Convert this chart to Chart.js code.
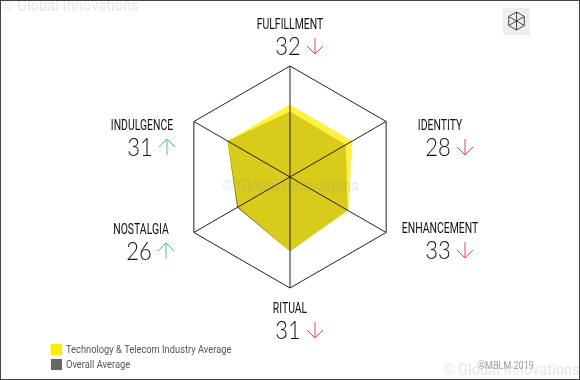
<!DOCTYPE html>
<html>
<head>
<meta charset="utf-8">
<script src="https://cdn.jsdelivr.net/npm/chart.js@4"></script>
<style>
    body { margin: 0; background: #fff; }
    #wrap { position: relative; width: 580px; height: 380px; }
    #frame { position: absolute; inset: 0; box-sizing: border-box; border: 1px solid #444; pointer-events: none; }
</style>
</head>
<body>
<div id="wrap">
    <canvas id="radar" width="580" height="380"></canvas>
    <div id="frame"></div>
</div>
<script>
const categories = ['FULFILLMENT', 'IDENTITY', 'ENHANCEMENT', 'RITUAL', 'NOSTALGIA', 'INDULGENCE'];
const scores = [32, 28, 33, 31, 26, 31];
const trends = ['down', 'down', 'down', 'down', 'up', 'up'];
const industryValues = [32.7, 32.5, 30.5, 33.5, 27, 32.5];
const overallValues = [29.5, 29, 30, 33.5, 27.5, 32.5];
const seriesNames = ['Technology & Telecom Industry Average', 'Overall Average'];
const axisMax = 50;

// centre of each label block, by hand from the picture
const labelSpots = [[290, 25], [440, 126], [440, 229], [290, 309], [141, 230], [142, 126]];

const yellow = '#ffee00';
const grey = '#666666';

// no condensed font is installed, so squeeze the text sideways
function narrowText(ctx, text, x, y, squeeze) {
    ctx.save();
    ctx.translate(x, y);
    ctx.scale(squeeze, 1);
    ctx.fillText(text, 0, 0);
    ctx.restore();
}

function drawArrow(ctx, x, y, dir) {
    // y is the middle of the arrow
    const tip = dir === 'down' ? y + 8 : y - 8;
    const tail = dir === 'down' ? y - 8 : y + 8;
    const back = dir === 'down' ? tip - 8 : tip + 8;
    ctx.strokeStyle = dir === 'down' ? '#f0444c' : '#4cc47c';
    ctx.lineWidth = 1;
    ctx.beginPath();
    ctx.moveTo(x, tail);
    ctx.lineTo(x, tip);
    ctx.moveTo(x - 8, back);
    ctx.lineTo(x, tip);
    ctx.lineTo(x + 8, back);
    ctx.stroke();
}

function drawLogo(ctx) {
    ctx.fillStyle = '#eeeeee';
    ctx.fillRect(503, 8, 27, 27);
    const cx = 516.5, cy = 21, r = 9;
    ctx.strokeStyle = '#444';
    ctx.lineWidth = 1;
    ctx.beginPath();
    for (let i = 0; i < 6; i++) {
        const a = (i * 60 - 90) * Math.PI / 180;
        const px = cx + r * Math.cos(a), py = cy + r * Math.sin(a);
        if (i === 0) ctx.moveTo(px, py); else ctx.lineTo(px, py);
    }
    ctx.closePath();
    for (let i = 0; i < 6; i++) {
        const a = (i * 60 - 90) * Math.PI / 180;
        ctx.moveTo(cx, cy);
        ctx.lineTo(cx + r * Math.cos(a), cy + r * Math.sin(a));
    }
    ctx.stroke();
}

const decorations = {
    id: 'decorations',
    afterDraw(chart) {
        const ctx = chart.ctx;
        ctx.save();
        ctx.textBaseline = 'middle';

        categories.forEach((name, i) => {
            const [x, y] = labelSpots[i];
            ctx.fillStyle = '#111';
            ctx.textAlign = 'center';
            ctx.font = '14.5px Roboto';
            narrowText(ctx, name, x, y, 0.72);
            ctx.font = '300 25px Lato';
            narrowText(ctx, String(scores[i]), x - 2, y + 21.5, 0.88);
            drawArrow(ctx, x + 25, y + 21, trends[i]);
        });

        // legend
        ctx.textAlign = 'left';
        ctx.font = '11.5px Roboto';
        seriesNames.forEach((name, i) => {
            const y = 344 + i * 15;
            ctx.fillStyle = i === 0 ? yellow : grey;
            ctx.fillRect(51, y, 11, 11);
            ctx.fillStyle = '#555';
            narrowText(ctx, name, 66, y + 6, 0.81);
        });

        drawLogo(ctx);

        ctx.fillStyle = 'rgba(120,120,120,0.7)';
        ctx.font = '11px Roboto';
        narrowText(ctx, '©MBLM 2019', 478, 366, 0.82);

        // watermark
        ctx.fillStyle = 'rgba(150,150,150,0.2)';
        ctx.font = '500 17px Roboto';
        narrowText(ctx, '© Global Innovations', 2, 7, 0.86);
        narrowText(ctx, '© Global Innovations', 222, 187, 0.86);
        narrowText(ctx, '© Global Innovations', 443, 371, 0.86);
        ctx.restore();
    }
};

new Chart(document.getElementById('radar'), {
    type: 'radar',
    data: {
        labels: categories,
        datasets: [
            { label: seriesNames[0], data: industryValues, backgroundColor: 'rgba(255,238,0,0.75)', borderWidth: 0, pointRadius: 0, fill: true, order: 1 },
            { label: seriesNames[1], data: overallValues, backgroundColor: grey, borderWidth: 0, pointRadius: 0, fill: true, order: 2 }
        ]
    },
    options: {
        responsive: false,
        animation: false,
        layout: { padding: { top: 66, bottom: 91 } },
        plugins: { legend: { display: false }, tooltip: { enabled: false } },
        scales: {
            r: {
                min: 0,
                max: axisMax,
                ticks: { display: false, stepSize: axisMax },
                pointLabels: { display: false },
                grid: { color: '#222', lineWidth: 1, z: 1 },
                angleLines: { color: '#222', lineWidth: 1 }
            }
        }
    },
    plugins: [decorations]
});
</script>
</body>
</html>
